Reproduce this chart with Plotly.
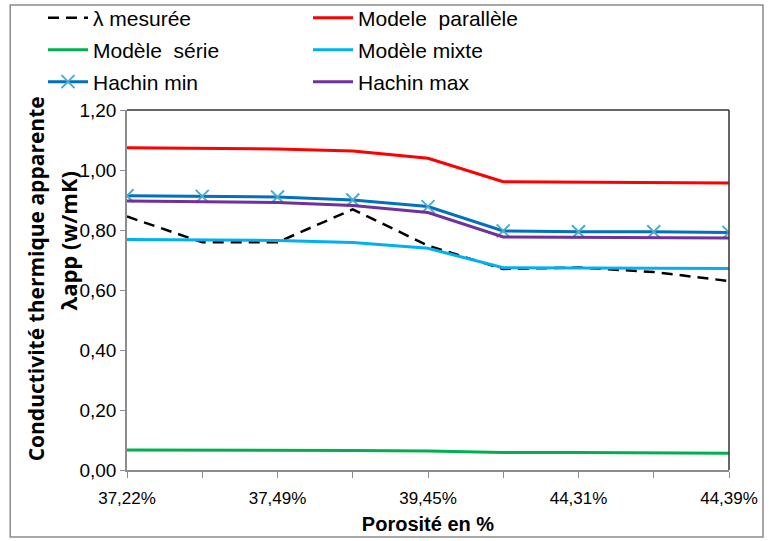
import plotly.graph_objects as go

# 9 measurement points, Excel shows only every other porosity label
points = list(range(9))
tick_pos = [0, 2, 4, 6, 8]
tick_labels = ["37,22%", "37,49%", "39,45%", "44,31%", "44,39%"]

lambda_mesuree = [0.845, 0.759, 0.759, 0.869, 0.748, 0.670, 0.675, 0.660, 0.630]
modele_parallele = [1.074, 1.072, 1.070, 1.063, 1.039, 0.961, 0.960, 0.959, 0.957]
modele_serie = [0.067, 0.067, 0.066, 0.065, 0.063, 0.058, 0.058, 0.057, 0.056]
modele_mixte = [0.768, 0.767, 0.765, 0.758, 0.739, 0.674, 0.673, 0.673, 0.672]
hachin_min = [0.914, 0.912, 0.910, 0.900, 0.878, 0.797, 0.794, 0.794, 0.792]
hachin_max = [0.897, 0.894, 0.892, 0.882, 0.858, 0.777, 0.775, 0.775, 0.773]

fig = go.Figure()
fig.add_trace(go.Scatter(x=points, y=lambda_mesuree, mode="lines", name="λ mesurée", legend="legend",
                         line=dict(color="black", width=2.5, dash="11px,7px")))
fig.add_trace(go.Scatter(x=points, y=modele_parallele, mode="lines", name="Modele  parallèle", legend="legend",
                         line=dict(color="#FF0000", width=3)))
fig.add_trace(go.Scatter(x=points, y=modele_serie, mode="lines", name="Modèle  série", legend="legend2",
                         line=dict(color="#00B050", width=3)))
fig.add_trace(go.Scatter(x=points, y=modele_mixte, mode="lines", name="Modèle mixte", legend="legend2",
                         line=dict(color="#00B0F0", width=3)))
fig.add_trace(go.Scatter(x=points, y=hachin_min, mode="lines+markers", name="Hachin min", legend="legend3",
                         line=dict(color="#0070C0", width=3),
                         marker=dict(symbol="x-thin", size=13,
                                     line=dict(color="#4BACC6", width=2))))
fig.add_trace(go.Scatter(x=points, y=hachin_max, mode="lines", name="Hachin max", legend="legend3",
                         line=dict(color="#7030A0", width=3)))

# plot area frame (top/right) and outer chart border
fig.add_shape(type="line", xref="paper", yref="paper", x0=0, x1=1, y0=1, y1=1,
              line=dict(color="#333333", width=1.5))
fig.add_shape(type="line", xref="paper", yref="paper", x0=1, x1=1, y0=0, y1=1,
              line=dict(color="#333333", width=1.5))
fig.add_shape(type="rect", xref="paper", yref="paper", x0=-0.194, x1=1.0565, y0=-0.186, y1=1.2917,
              line=dict(color="#8C8C8C", width=1.5))

fig.add_annotation(text="<b>Conductivité thermique apparente</b>", xref="paper", yref="paper",
                   x=-0.152, y=0.531, xanchor="center", yanchor="middle", textangle=-90, showarrow=False,
                   font=dict(family="Open Sans, Noto Sans", size=21, color="black"))
fig.add_annotation(text="<b>λapp (w/mK)</b>", xref="paper", yref="paper",
                   x=-0.098, y=0.635, xanchor="center", yanchor="middle", textangle=-90, showarrow=False,
                   font=dict(family="Open Sans, Noto Sans", size=22, color="black"))

legend_style = dict(orientation="h", xref="container", yref="container",
                    x=43 / 769, xanchor="left", yanchor="middle",
                    entrywidth=210, entrywidthmode="pixels",
                    font=dict(family="Liberation Sans, Arial", size=21, color="black"),
                    bgcolor="rgba(0,0,0,0)", itemwidth=40)

fig.update_layout(
    width=769, height=541,
    margin=dict(l=127, r=40, t=110, b=71, autoexpand=False),
    paper_bgcolor="white", plot_bgcolor="white",
    separators=", ",
    font=dict(family="Liberation Sans, Arial", size=16, color="black"),
    legend=dict(legend_style, y=1 - 18 / 541),
    legend2=dict(legend_style, y=1 - 50 / 541),
    legend3=dict(legend_style, y=1 - 82 / 541),
    xaxis=dict(range=[0, 8], tickvals=tick_pos, ticktext=tick_labels,
               showgrid=False, zeroline=False, showline=True, linecolor="#8C8C8C", linewidth=1.5,
               ticks="outside", ticklen=6, tickcolor="#8C8C8C",
               minor=dict(dtick=1, ticks="outside", ticklen=6, tickcolor="#8C8C8C"),
               tickfont=dict(size=17), ticklabelstandoff=6,
               title=dict(text="<b>Porosité en %</b>", font=dict(size=20), standoff=10)),
    yaxis=dict(range=[0, 1.2], dtick=0.2, tickformat=".2f",
               showgrid=False, zeroline=False, showline=True, linecolor="#8C8C8C", linewidth=1.5,
               ticks="outside", ticklen=5, tickcolor="#8C8C8C", tickfont=dict(size=19)),
)

fig.write_html("out.html", config={"displayModeBar": False},
               post_script="document.body.style.margin='0';")
